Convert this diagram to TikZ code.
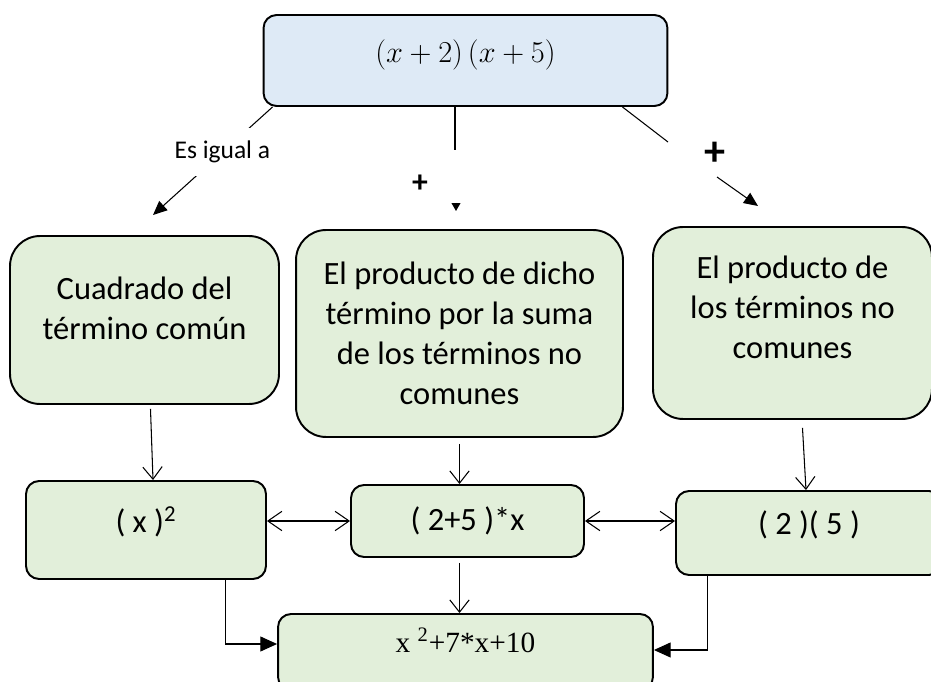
\documentclass[tikz,border=0pt]{standalone}
\usepackage{fontspec}
\setmainfont{Carlito}
\newfontfamily\timesfont{Liberation Serif}
\usetikzlibrary{arrows.meta,calc}
\definecolor{boxblue}{HTML}{DEEAF6}
\definecolor{boxgreen}{HTML}{E2EFDA}

\begin{document}
\begin{tikzpicture}[x=0.02cm,y=-0.02cm,
        bigbox/.style={draw,line width=1.1pt,fill=boxgreen,rectangle,rounded corners=0.6cm,align=center,font=\fontsize{18.5}{22.7}\selectfont},
        smallbox/.style={draw,line width=1.1pt,fill=boxgreen,rectangle,rounded corners=0.26cm,font=\fontsize{18.5}{22.7}\selectfont},
        openarr/.style={line width=0.6pt,-{Straight Barb[length=7pt,width=11pt]}},
        duoarr/.style={line width=0.6pt,{Straight Barb[length=8pt,width=11pt]}-{Straight Barb[length=8pt,width=11pt]}},
        fillarr/.style={line width=0.6pt,-{Triangle[length=9.5pt,width=8.5pt]}}]
        %% Frame
        \useasboundingbox (0,0) rectangle (931,682);
        %% Factors
        \node[draw,line width=1.1pt,fill=boxblue,rectangle,rounded corners=0.26cm,minimum width=8.08cm,minimum height=1.82cm,text depth=11pt,font=\fontsize{16}{19}\selectfont] (factors) at (465.5,60.5) {$(x+2)\,(x+5)$};
        %% Rules
        \node[bigbox,minimum width=5.38cm,minimum height=3.36cm,text depth=13.6pt] (cuad) at (144.5,320) {Cuadrado del\\término común};
        \node[bigbox,minimum width=6.54cm,minimum height=4.14cm] (dicho) at (459.5,333.5) {El producto de dicho\\término por la suma\\de los términos no\\comunes};
        \node[bigbox,minimum width=5.58cm,minimum height=3.84cm,text depth=18pt] (nocom) at (792.5,323) {El producto de\\los términos no\\comunes};
        %% Terms
        \node[smallbox,minimum width=4.8cm,minimum height=1.96cm,text depth=12pt] (sq) at (146,530) {( x )\textsuperscript{2}};
        \node[smallbox,minimum width=4.66cm,minimum height=1.44cm] (sum) at (467.5,521) {( 2+5 )*x};
        \node[smallbox,minimum width=5.32cm,minimum height=1.68cm,text depth=12pt] (mult) at (809,533) {( 2 )( 5 )};
        \node[smallbox,minimum width=7.5cm,minimum height=1.52cm,text depth=13pt,font=\timesfont\fontsize{16.7}{20}\selectfont] (res) at (465.5,652) {x \textsuperscript{2}+7*x+10};
        %% Top connectors
        \coordinate (lt) at (153,215);
        \draw[line width=0.6pt,-{Triangle[length=8pt,width=7pt]}] ($(factors.south west)+(10,0)$) -- node[pos=0.42,fill=white,inner ysep=7.4pt,inner xsep=2pt,font=\fontsize{14.5}{17}\selectfont] {Es igual a} (lt);
        \coordinate (m1) at (455,150);
        \coordinate (m2) at (456,203);
        \coordinate (m3) at (456,211);
        \draw[line width=0.6pt,-{Triangle[length=4.5pt,width=5pt]}] (factors.south -| m1) -- (m1) (m2) -- (m3);
        \node[font=\bfseries\fontsize{18}{20}\selectfont] (plusm) at (420,184) {+};
        \coordinate (r1) at (668,142);
        \coordinate (r2) at (717,177);
        \coordinate (r3) at (758,206);
        \draw[line width=0.6pt,-{Triangle[length=8pt,width=7pt]}] ($(factors.south east)+(-46,0)$) -- (r1) (r2) -- (r3);
        \node[font=\bfseries\fontsize{24}{26}\selectfont] (plusr) at (715,154) {+};
        %% Down arrows
        \draw[openarr] ($(cuad.south)+(6,4)$) -- ($(sq.north)+(7,0)$);
        \draw[openarr] ($(dicho.south)+(0,6)$) -- (dicho.south |- sum.north);
        \draw[openarr] ($(nocom.south)+(10,8)$) -- ($(mult.north)+(-3,0)$);
        \draw[openarr] ($(dicho.south |- sum.south)+(0,5)$) -- (dicho.south |- res.north);
        %% Side arrows
        \draw[duoarr] (sum.west -| sq.east) -- (sum.west);
        \draw[duoarr] (sum.east) -- (sum.east -| mult.west);
        \draw[fillarr] ($(sq.south east)+(-41,0)$) |- ($(res.west)+(0,-8)$);
        \draw[fillarr] ($(mult.south west)+(32,0)$) |- ($(res.east)+(0,-2)$);
\end{tikzpicture}
\end{document}
